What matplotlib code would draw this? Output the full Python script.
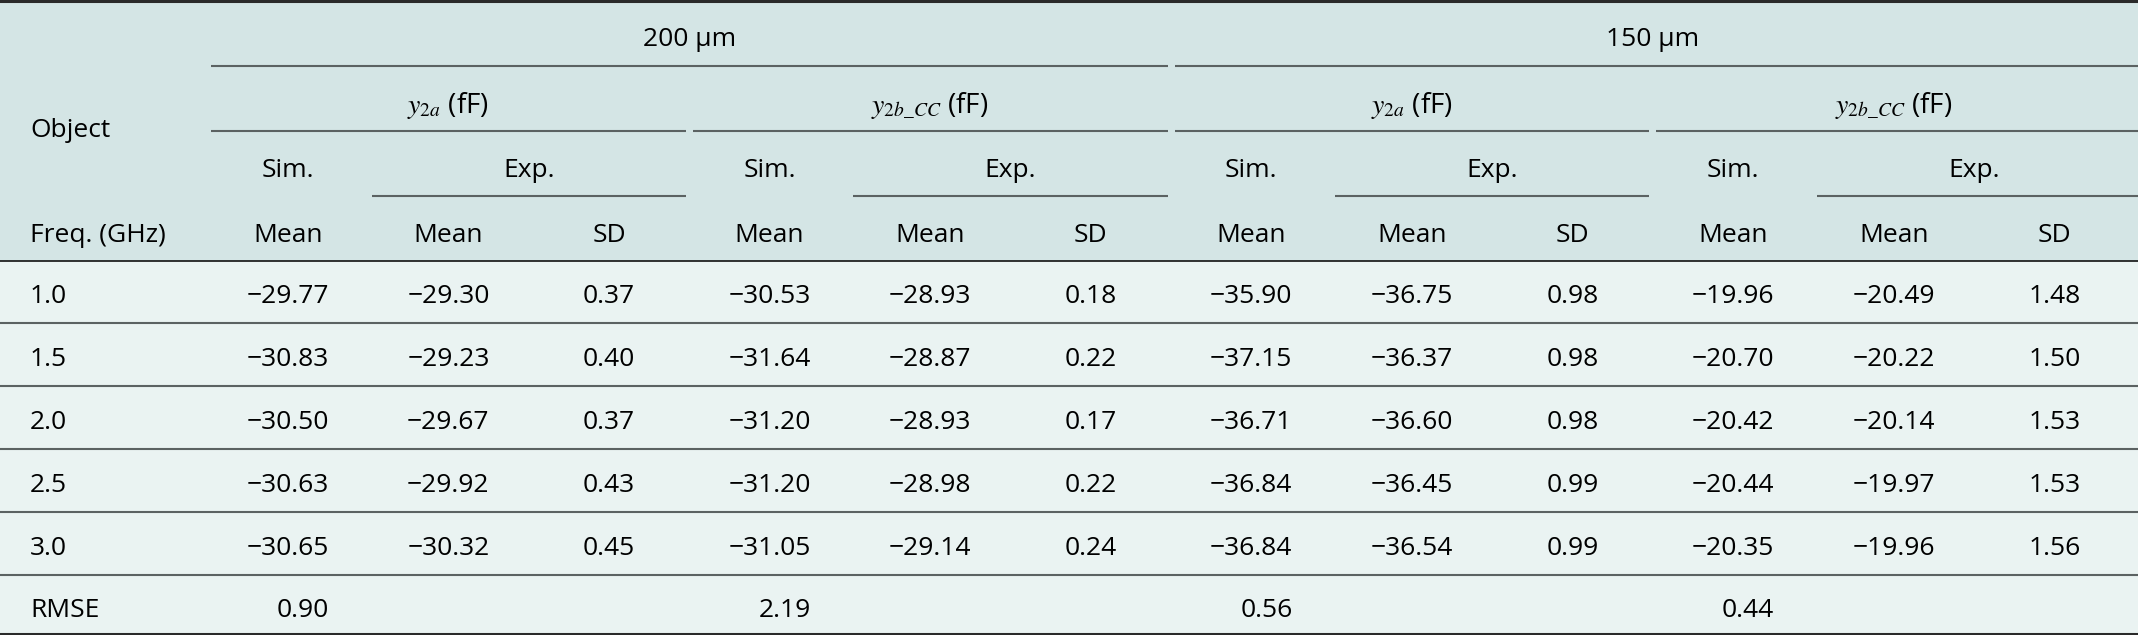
import matplotlib
matplotlib.use("Agg")
import matplotlib.pyplot as plt

plt.rcParams['font.family'] = ['Open Sans', 'DejaVu Sans']
plt.rcParams['mathtext.fontset'] = 'stix'

# table data
freqs = ['1.0', '1.5', '2.0', '2.5', '3.0']
sim_200_y2a = [-29.77, -30.83, -30.50, -30.63, -30.65]
exp_200_y2a_mean = [-29.30, -29.23, -29.67, -29.92, -30.32]
exp_200_y2a_sd = [0.37, 0.40, 0.37, 0.43, 0.45]
sim_200_y2b = [-30.53, -31.64, -31.20, -31.20, -31.05]
exp_200_y2b_mean = [-28.93, -28.87, -28.93, -28.98, -29.14]
exp_200_y2b_sd = [0.18, 0.22, 0.17, 0.22, 0.24]
sim_150_y2a = [-35.90, -37.15, -36.71, -36.84, -36.84]
exp_150_y2a_mean = [-36.75, -36.37, -36.60, -36.45, -36.54]
exp_150_y2a_sd = [0.98, 0.98, 0.98, 0.99, 0.99]
sim_150_y2b = [-19.96, -20.70, -20.42, -20.44, -20.35]
exp_150_y2b_mean = [-20.49, -20.22, -20.14, -19.97, -19.96]
exp_150_y2b_sd = [1.48, 1.50, 1.53, 1.53, 1.56]
rmse = [0.90, 2.19, 0.56, 0.44]

thicknesses = ['200 μm', '150 μm']
quantities = [r'$y_{2a}$ (fF)', r'$y_{2b\_CC}$ (fF)']

columns = [sim_200_y2a, exp_200_y2a_mean, exp_200_y2a_sd,
           sim_200_y2b, exp_200_y2b_mean, exp_200_y2b_sd,
           sim_150_y2a, exp_150_y2a_mean, exp_150_y2a_sd,
           sim_150_y2b, exp_150_y2b_mean, exp_150_y2b_sd]


def fmt(v):
    return f"{v:.2f}".replace('-', '\u2212')


W, H = 2138, 635
fig = plt.figure(figsize=(W / 100, H / 100), dpi=100)
ax = fig.add_axes([0, 0, 1, 1])
ax.set_xlim(0, W)
ax.set_ylim(H, 0)
ax.axis('off')

FS = 19
header_bg = '#d4e5e5'
body_bg = '#eaf3f2'
gray = '#5b6262'

x0 = 211
cw = (W - x0) / 12
pad = 7
bounds = [x0 + cw * k for k in range(13)]
centers = [bounds[k] + (cw - pad) / 2 for k in range(12)]

header_lines = [65.7, 130.7, 195.7]
header_bottom = 260.5
rh = 62.8
row_lines = [header_bottom + rh * k for k in range(7)]

ax.axhspan(0, header_bottom, color=header_bg, lw=0, zorder=0)
ax.axhspan(header_bottom, H, color=body_bg, lw=0, zorder=0)


def span_line(y, k0, k1):
    end = bounds[k1] - pad if k1 < 12 else W
    ax.plot([bounds[k0], end], [y, y], color=gray, lw=1.5, solid_capstyle='butt', zorder=2)


def htext(x, y, s, ha='center', fs=FS):
    ax.text(x, y, s, ha=ha, va='center_baseline', fontsize=fs)


# header spanning lines
for g in range(2):
    span_line(header_lines[0], 6 * g, 6 * g + 6)
    htext((bounds[6 * g] + bounds[6 * g + 6] - pad) / 2, 36, thicknesses[g])
    for q in range(2):
        k = 6 * g + 3 * q
        span_line(header_lines[1], k, k + 3)
        span_line(header_lines[2], k + 1, k + 3)
        htext((bounds[k] + bounds[k + 3] - pad) / 2, 101.5, quantities[q], fs=20)
        htext(centers[k], 167.5, 'Sim.')
        htext((bounds[k + 1] + bounds[k + 3] - pad) / 2, 167.5, 'Exp.')
        for j, lab in enumerate(['Mean', 'Mean', 'SD']):
            htext(centers[k + j], 232, lab)

htext(30, 127.5, 'Object', ha='left')
htext(30, 232, 'Freq. (GHz)', ha='left')

# rules
ax.plot([0, W], [1.2, 1.2], color='#2a2a2a', lw=2.2, zorder=3)
ax.plot([0, W], [header_bottom, header_bottom], color='#111111', lw=1.2, zorder=3)
for y in row_lines[1:6]:
    ax.plot([0, W], [y, y], color=gray, lw=1.5, zorder=2)
ax.plot([0, W], [633.5, 633.5], color='#2a2a2a', lw=2.2, zorder=3)

# measure widest value in each column to right-align numbers
fig.canvas.draw()
renderer = fig.canvas.get_renderer()
inv = ax.transData.inverted()


def text_width(s):
    t = ax.text(0, 0, s, fontsize=FS)
    bb = t.get_window_extent(renderer)
    t.remove()
    p0 = inv.transform((bb.x0, bb.y0))
    p1 = inv.transform((bb.x1, bb.y0))
    return p1[0] - p0[0]


for k, col in enumerate(columns):
    maxw = max(text_width(fmt(v)) for v in col)
    xr = centers[k] + maxw / 2
    for i, v in enumerate(col):
        yc = header_bottom + rh * (i + 0.5) + 2
        ax.text(xr, yc, fmt(v), ha='right', va='center_baseline', fontsize=FS)
    if k % 3 == 0:
        yc = header_bottom + rh * 5.5 + 2
        ax.text(xr, yc, fmt(rmse[k // 3]), ha='right', va='center_baseline', fontsize=FS)

for i, f in enumerate(freqs + ['RMSE']):
    yc = header_bottom + rh * (i + 0.5) + 2
    ax.text(30, yc, f, ha='left', va='center_baseline', fontsize=FS)

fig.savefig('out.png', dpi=100)
